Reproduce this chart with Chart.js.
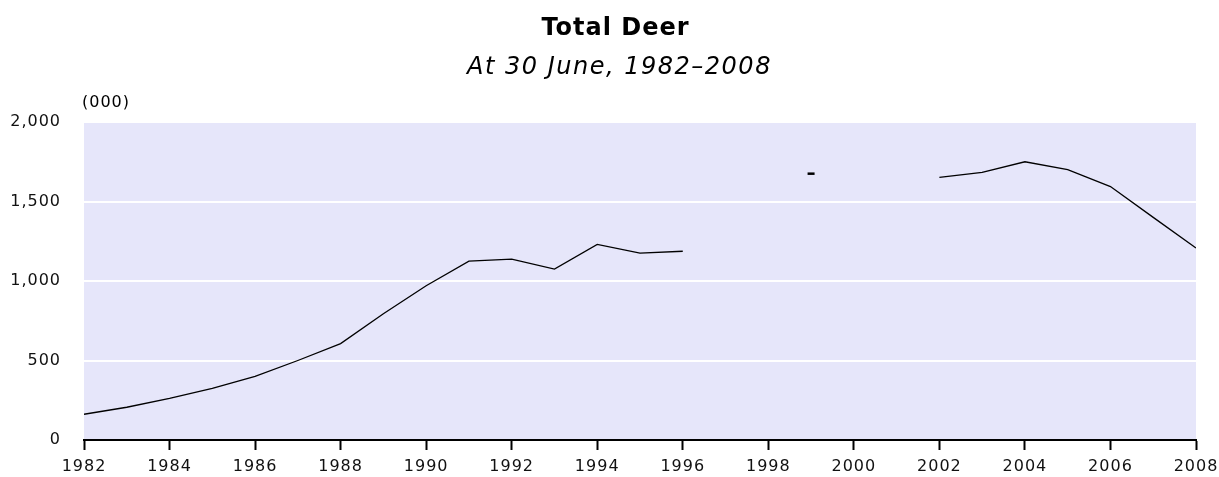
<!DOCTYPE html>
<html>
<head>
<meta charset="utf-8">
<script src="https://cdn.jsdelivr.net/npm/chart.js@4.4.1/dist/chart.umd.min.js"></script>
<style>
  html, body { margin: 0; padding: 0; background: #fff; }
  #wrap { width: 1219px; height: 477px; }
</style>
</head>
<body>
<div id="wrap"><canvas id="deerChart"></canvas></div>
<script>
// Total deer at 30 June, thousands (no figures for 1997-98 and 2000-01)
const years = [1982, 1983, 1984, 1985, 1986, 1987, 1988, 1989, 1990, 1991, 1992, 1993, 1994, 1995,
               1996, 1997, 1998, 1999, 2000, 2001, 2002, 2003, 2004, 2005, 2006, 2007, 2008];
const totalDeer = [162, 206, 262, 325, 400, 500, 606, 794, 970, 1125, 1137, 1075, 1230, 1175,
                   1187, null, null, 1675, null, null, 1652, 1683, 1750, 1700, 1594, 1400, 1208];

const chartTitle = 'Total Deer';
const chartSubtitle = 'At 30 June, 1982–2008';
const unitLabel = '(000)';

const FONT = '"DejaVu Sans", Verdana, sans-serif';

// a value with no neighbours would be invisible as a line, so show it as a short dash
function isolated(i) {
    if (totalDeer[i] == null) return false;
    const prev = i > 0 ? totalDeer[i - 1] : null;
    const next = i < totalDeer.length - 1 ? totalDeer[i + 1] : null;
    return prev == null && next == null;
}

const plotBackground = {
    id: 'plotBackground',
    beforeDraw(chart) {
        const { ctx, chartArea: a } = chart;
        ctx.letterSpacing = '1px';
        ctx.save();
        ctx.fillStyle = '#e6e6fa';
        ctx.fillRect(a.left, a.top, a.right - a.left, a.bottom - a.top);
        ctx.restore();
    }
};

const headings = {
    id: 'headings',
    afterDraw(chart) {
        const { ctx, chartArea: a, width } = chart;
        ctx.save();
        ctx.fillStyle = '#000';
        ctx.textAlign = 'center';
        ctx.textBaseline = 'alphabetic';
        ctx.letterSpacing = '1px';
        ctx.font = 'bold 24px ' + FONT;
        ctx.fillText(chartTitle, width / 2 + 6, 35);
        ctx.letterSpacing = '1.5px';
        ctx.font = 'italic 24px ' + FONT;
        ctx.fillText(chartSubtitle, width / 2 + 10, 74);
        ctx.textAlign = 'left';
        ctx.letterSpacing = '1px';
        ctx.font = '16px ' + FONT;
        ctx.fillText(unitLabel, a.left - 2, 107);
        ctx.restore();
    }
};

new Chart(document.getElementById('deerChart'), {
    type: 'line',
    data: {
        datasets: [{
            label: 'Total deer',
            data: years.map((y, i) => ({ x: y, y: totalDeer[i] })),
            borderColor: '#000',
            borderWidth: 1.3,
            tension: 0,
            spanGaps: false,
            pointStyle: 'line',
            pointRadius: ctx => isolated(ctx.dataIndex) ? 3.5 : 0,
            pointHoverRadius: 0,
            pointBorderColor: '#000',
            pointBorderWidth: 2.5
        }]
    },
    options: {
        responsive: true,
        maintainAspectRatio: false,
        animation: false,
        layout: { padding: { top: 122, right: 23, bottom: 0, left: 0 } },
        plugins: {
            legend: { display: false },
            tooltip: { enabled: false },
            title: { display: false }
        },
        scales: {
            x: {
                type: 'linear',
                min: 1982,
                max: 2008,
                afterFit(s) {
                    s.height = 37;
                    s.paddingLeft = 0;
                    s.paddingRight = 0;
                },
                ticks: {
                    stepSize: 2,
                    autoSkip: false,
                    maxRotation: 0,
                    padding: 7,
                    color: '#111',
                    font: { family: FONT, size: 16 },
                    callback: v => String(v)
                },
                grid: {
                    drawOnChartArea: false,
                    drawTicks: true,
                    tickLength: 10,
                    tickColor: '#000',
                    tickWidth: 2
                },
                border: { display: true, color: '#000', width: 2 }
            },
            y: {
                min: 0,
                max: 2000,
                afterFit(s) { s.width = 84; },
                ticks: {
                    stepSize: 500,
                    padding: 23,
                    color: '#111',
                    font: { family: FONT, size: 16 },
                    callback: v => v.toLocaleString('en-US')
                },
                grid: { color: '#fff', lineWidth: 2, drawTicks: false },
                border: { display: false }
            }
        }
    },
    plugins: [plotBackground, headings]
});
</script>
</body>
</html>
